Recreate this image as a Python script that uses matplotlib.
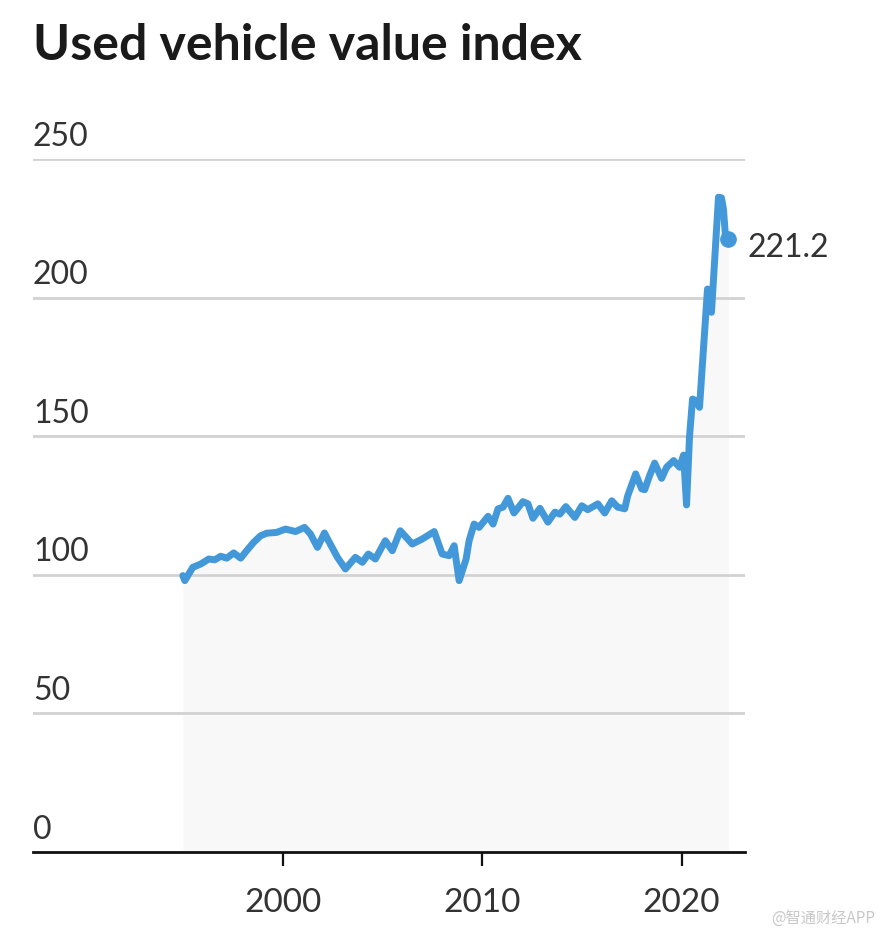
import matplotlib.pyplot as plt
import matplotlib.transforms as mtransforms

# values (decimal year, index value)
years = [1995.0, 1995.1, 1995.5, 1995.9, 1996.3, 1996.6, 1996.9, 1997.2, 1997.55, 1997.9,
         1998.2, 1998.55, 1998.9, 1999.2, 1999.7, 2000.15, 2000.65, 2001.1, 2001.4, 2001.75,
         2002.1, 2002.3, 2002.75, 2003.15, 2003.65, 2004.0, 2004.3, 2004.65, 2005.15, 2005.5,
         2005.9, 2006.5, 2007.0, 2007.6, 2008.0, 2008.35, 2008.6, 2008.85, 2009.2, 2009.35,
         2009.6, 2009.85, 2010.3, 2010.55, 2010.8, 2011.05, 2011.3, 2011.6, 2012.05, 2012.3,
         2012.55, 2012.9, 2013.3, 2013.65, 2013.9, 2014.2, 2014.65, 2015.0, 2015.3, 2015.8,
         2016.15, 2016.5, 2016.8, 2017.15, 2017.3, 2017.7, 2018.0, 2018.15, 2018.4, 2018.65,
         2019.0, 2019.25, 2019.6, 2019.9, 2020.1, 2020.25, 2020.4, 2020.55, 2020.7, 2020.9,
         2021.3, 2021.4, 2021.5, 2021.85, 2022.0, 2022.1, 2022.2, 2022.35]
values = [99.7, 97.9, 102.7, 103.9, 105.7, 105.4, 106.7, 106.0, 107.9, 106.0,
          108.7, 111.7, 114.1, 115.0, 115.3, 116.5, 115.6, 117.1, 114.7, 109.9,
          115.1, 112.3, 106.3, 102.1, 106.3, 104.5, 107.5, 105.7, 112.3, 108.7,
          115.9, 111.1, 112.9, 115.6, 107.5, 106.9, 110.5, 97.9, 105.7, 112.3,
          118.3, 117.1, 121.1, 118.3, 123.8, 124.4, 127.6, 122.3, 126.4, 125.6,
          120.4, 124.0, 119.0, 122.6, 121.9, 124.6, 120.7, 124.9, 123.5, 125.6,
          122.3, 126.7, 124.4, 123.8, 128.5, 136.4, 131.0, 130.7, 135.8, 140.3,
          134.8, 138.8, 141.2, 138.8, 143.2, 125.2, 150.0, 163.4, 162.9, 160.4,
          203.1, 200.0, 194.7, 236.2, 236.0, 232.0, 222.3, 221.2]

y_ticks = [0, 50, 100, 150, 200, 250]
x_ticks = [2000, 2010, 2020]
title = "Used vehicle value index"
last_label = "221.2"

line_color = "#4298d8"
text_color = "#333333"

plt.rcParams['font.family'] = ['Lato', 'DejaVu Sans']

fig = plt.figure(figsize=(8.86, 9.37), dpi=100)
ax = fig.add_axes([33 / 886, 84 / 937, 712 / 886, 693 / 937])

ax.fill_between(years, values, 0, color="#f8f8f8", lw=0, zorder=1)
ax.plot(years, values, color=line_color, lw=5, solid_joinstyle="round",
        solid_capstyle="round", zorder=3)
ax.plot(years[-1], values[-1], "o", color=line_color, ms=11, zorder=4)

ax.set_xlim(1987.49, 2023.18)
ax.set_ylim(0, 250)

for s in ["top", "right", "left"]:
    ax.spines[s].set_visible(False)
ax.spines["bottom"].set_linewidth(2)
ax.spines["bottom"].set_color("#111111")

# gridlines
for t in y_ticks[1:]:
    ax.axhline(t, color="#d2d2d2", lw=2, zorder=2)

ax.set_yticks([])
ax.set_xticks(x_ticks)
ax.set_xticklabels([str(t) for t in x_ticks], fontsize=24, color=text_color)
ax.tick_params(axis="x", length=10, width=1.6, color="#111111", pad=15)

# y labels sit above the gridlines
trans = mtransforms.blended_transform_factory(ax.transAxes, ax.transData)
for t in y_ticks:
    ax.annotate(str(t), xy=(0, t), xycoords=trans, xytext=(0, 6),
                textcoords="offset points", ha="left", va="bottom",
                fontsize=23, color=text_color)

ax.annotate(last_label, xy=(years[-1], values[-1]), xytext=(14, -6),
            textcoords="offset points", ha="left", va="center",
            fontsize=23, color=text_color, annotation_clip=False)

fig.text(33 / 886, 1 - 46 / 937, title, fontsize=36, fontweight="bold",
         color="#1a1a1a", ha="left", va="center")

fig.text(875 / 886, 1 - 918 / 937, "@智通财经APP", fontsize=11, color="#c8c8c8",
         ha="right", va="center", family=["Noto Sans CJK SC", "DejaVu Sans"])

fig.savefig("out.png", dpi=100)
